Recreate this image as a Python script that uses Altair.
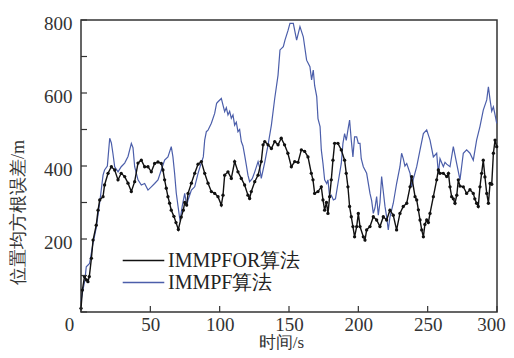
import altair as alt
import pandas as pd

# ---------------- data ----------------
series_names = ["IMMPFOR算法", "IMMPF算法"]
series_colors = ["#111111", "#4b5eaa"]

x_ticks = [0, 50, 100, 150, 200, 250, 300]
y_ticks = [0, 100, 200, 300, 400, 500, 600, 700, 800]
y_labels = [200, 400, 600, 800]

immpfor_t = [0, 1, 2.5, 4, 5, 6, 7.5, 8.7, 11, 12.3,
             13.5, 15.9, 17, 19.5, 21.9, 24.3, 26.7, 29, 31.5, 33.9,
             36.3, 38.7, 41.1, 43.5, 45.9, 48.3, 50.7, 53.1, 55.5, 57.9,
             59.1, 60.3, 61.5, 62.7, 63.9, 65.1, 67, 68.5, 70.2, 72.3,
             73.8, 74.8, 76.2, 77.2, 79.6, 82, 84.4, 86.8, 89.2, 91.6,
             94, 96.4, 98.8, 101.2, 102.4, 103.6, 106, 108.4, 110.8, 113.2,
             115.6, 118, 120.4, 121.6, 122.8, 125.3, 127.7, 130, 131.3, 132.5,
             134.9, 137.3, 139.7, 142.1, 144.4, 146.8, 149.2, 151.7, 154.1, 156.5,
             158.9, 161.3, 163.7, 166.1, 167.3, 168.5, 170.9, 173.3, 174.5, 175.7,
             177, 178.1, 179.3, 180.5, 181.7, 182.9, 185.3, 187.7, 190.1, 191.3,
             192.5, 193.7, 194.9, 196.1, 197.3, 198.8, 200, 201.2, 203.6, 204.8,
             206, 208.4, 210.8, 213.2, 215.6, 218, 220.4, 222.8, 225.2, 227.6,
             230, 232.4, 234.9, 237.3, 238.5, 240.9, 242.1, 243.3, 244.5, 245.7,
             246.9, 248, 249.3, 250.5, 251.7, 254.1, 256.5, 257.7, 258.9, 261.3,
             263.7, 265, 266.1, 267.3, 268.5, 269.7, 271, 272.1, 273.3, 275.7,
             278.1, 280.5, 282.9, 284, 285.3, 286.5, 287.7, 288.9, 290.1, 291.3,
             292.6, 293.8, 295, 296.2, 297.4, 298.6, 299.8]
immpfor_v = [10, 60, 97, 88, 83, 97, 147, 197, 238, 279,
             307, 316, 348, 380, 398, 389, 362, 380, 371, 353,
             330, 357, 408, 416, 398, 398, 384, 407, 411, 407,
             389, 362, 339, 316, 298, 279, 262, 245, 226, 260,
             279, 300, 293, 325, 353, 380, 405, 412, 380, 353,
             330, 325, 316, 293, 320, 375, 384, 366, 412, 384,
             366, 348, 320, 311, 330, 357, 375, 412, 458, 467,
             458, 448, 467, 458, 476, 458, 435, 398, 412, 410,
             444, 440, 425, 380, 362, 325, 330, 343, 307, 279,
             300, 270, 316, 362, 416, 462, 462, 444, 416, 380,
             343, 289, 261, 234, 206, 234, 270, 234, 206, 197,
             225, 234, 261, 252, 234, 261, 252, 279, 265, 225,
             270, 289, 298, 343, 371, 316, 307, 280, 252, 225,
             206, 240, 252, 245, 270, 316, 362, 389, 380, 380,
             371, 380, 343, 316, 310, 298, 320, 362, 345, 343,
             325, 335, 325, 310, 298, 289, 343, 380, 416, 370,
             325, 298, 352, 350, 435, 471, 453]

immpf_t = [0, 1, 2.8, 3.8, 6.2, 8.7, 11, 13.5, 15.9, 17,
           19, 20.7, 21.9, 23, 24.3, 26.7, 29, 31.5, 33.9, 36.3,
           37.5, 38.7, 41.1, 43.5, 45.9, 48.3, 50.7, 53.1, 55.5, 57.9,
           60.3, 62.7, 65.1, 66.3, 67.5, 68.7, 70, 71.4, 73, 74.8,
           76.2, 77.2, 79.6, 82, 84.4, 86, 88.2, 89.2, 90.4, 91.6,
           94, 96.4, 97.8, 98.8, 101.2, 102.4, 103.6, 104.8, 106, 107.2,
           108.4, 109.6, 110.8, 112, 113.2, 114.4, 115.6, 116.8, 118, 119.2,
           120.4, 121.6, 123.5, 125.3, 127.7, 128.9, 130, 132.5, 134.9, 137.3,
           139.7, 142.1, 143.5, 145.9, 147.1, 149.2, 150.7, 153.1, 155.5, 157.9,
           160.3, 162.7, 165.1, 166.3, 167.5, 168.5, 170, 170.9, 172.4, 173.3,
           174.5, 175.7, 177.2, 178.1, 179.3, 180.5, 182, 183.5, 185.3, 187.7,
           188.9, 190.1, 191.3, 192.5, 193.7, 194.9, 196.1, 197.3, 198.8, 200,
           201.2, 202.1, 203.6, 206, 208.4, 209.6, 210.8, 212, 213.2, 214.4,
           215.6, 216.8, 218, 219.2, 220.4, 221.6, 222.8, 225.2, 227.6, 230,
           231.2, 232.4, 233.6, 234.9, 237.3, 238.5, 239.7, 242.1, 244.5, 246.9,
           249.3, 251.7, 254.1, 256.5, 257.7, 258.9, 261.3, 262.5, 263.7, 266.1,
           268.5, 270.9, 273.3, 275.7, 278.1, 280.5, 282.9, 285.3, 287.7, 290.1,
           292.6, 293.8, 295, 296.2, 297.4, 298.6, 299.8]
immpf_v = [30, 52, 88, 124, 133, 189, 231, 300, 375, 389,
           400, 476, 463, 435, 398, 384, 398, 408, 426, 462,
           450, 398, 362, 348, 352, 334, 343, 352, 362, 389,
           416, 425, 453, 425, 380, 326, 289, 250, 290, 325,
           290, 307, 334, 343, 380, 400, 425, 471, 494, 498,
           517, 544, 572, 576, 585, 567, 549, 560, 540, 550,
           531, 540, 512, 520, 494, 500, 467, 455, 430, 403,
           375, 357, 365, 384, 412, 395, 366, 410, 458, 512,
           585, 649, 718, 727, 745, 770, 791, 791, 745, 782,
           754, 690, 672, 636, 663, 620, 590, 530, 508, 444,
           407, 362, 352, 362, 316, 320, 307, 310, 352, 407,
           462, 489, 470, 499, 526, 471, 425, 480, 480, 462,
           462, 420, 398, 380, 325, 305, 270, 285, 316, 265,
           300, 371, 330, 290, 261, 225, 260, 298, 352, 398,
           435, 420, 400, 407, 380, 343, 365, 398, 444, 489,
           499, 471, 425, 435, 380, 420, 398, 410, 405, 398,
           453, 407, 362, 435, 444, 435, 416, 471, 508, 553,
           581, 617, 581, 550, 562, 540, 517]

df_for = pd.DataFrame({"t": immpfor_t, "v": immpfor_v, "series": series_names[0]})
df_pf = pd.DataFrame({"t": immpf_t, "v": immpf_v, "series": series_names[1]})

SERIF = "serif"
AXC = "#333333"

x_enc = alt.X(
    "t:Q",
    scale=alt.Scale(domain=[0, 300], nice=False, zero=False),
    axis=alt.Axis(
        values=x_ticks, title="时间/s", format="d",
        labelPadding=3, labelFontSize=19, labelFlush=False,
        labelOffset={"condition": [
            {"test": "datum.value === 0", "value": -12},
            {"test": "datum.value === 300", "value": -6},
        ], "value": 0},
        titleX=200, titleY=22, titleBaseline="top", titleFontSize=17,
    ),
)
y_enc = alt.Y(
    "v:Q",
    scale=alt.Scale(domain=[0, 800], nice=False),
    axis=alt.Axis(
        values=y_labels, title="位置均方根误差/m", format="d",
        labelPadding=9, labelFontSize=19, labelOffset=3, labelFlush=False,
        titleX=-54, titleY=192, titleAngle=270, titleBaseline="bottom",
        titleFontSize=18,
    ),
)
color_enc = alt.Color(
    "series:N",
    scale=alt.Scale(domain=series_names, range=series_colors),
    legend=alt.Legend(
        orient="none", legendX=51, legendY=229, title=None,
        symbolType="M-2,0L2,0", symbolSize=432, symbolStrokeWidth=1.5,
        labelFont=SERIF, labelFontSize=20, labelColor="#222222",
        labelOffset=13, rowPadding=0, padding=0, labelLimit=400,
    ),
)

blue_line = alt.Chart(df_pf).mark_line(strokeWidth=1.2).encode(
    x=x_enc, y=y_enc, color=color_enc, order="t:Q"
)
black_line = alt.Chart(df_for).mark_line(strokeWidth=1.4).encode(
    x=x_enc, y=y_enc, color=color_enc, order="t:Q"
)
black_pts = alt.Chart(df_for).mark_point(filled=True, size=11, opacity=1).encode(
    x=x_enc, y=y_enc, color=alt.value(series_colors[0])
)

xtick_df = pd.DataFrame({"t": x_ticks})
ytick_df = pd.DataFrame({"v": y_ticks})
x_inticks = alt.Chart(xtick_df).mark_rule(color=AXC, strokeWidth=1.2).encode(
    x=x_enc, y=alt.value(292), y2=alt.value(286)
)
y_inticks = alt.Chart(ytick_df).mark_rule(color=AXC, strokeWidth=1.2).encode(
    y=y_enc, x=alt.value(0), x2=alt.value(6)
)

chart = alt.layer(blue_line, black_line, black_pts, x_inticks, y_inticks).properties(
    width=416, height=292,
    autosize=alt.AutoSizeParams(type="none"),
    padding={"left": 73, "top": 12, "right": 9, "bottom": 38},
    background="#ffffff",
).configure_view(
    stroke=AXC, strokeWidth=1.5
).configure_axis(
    domain=False, ticks=False, grid=False,
    labelFont=SERIF, labelColor=AXC,
    titleFont=SERIF, titleColor=AXC, titleFontWeight="normal",
)

chart.save("out.html", embed_options={"renderer": "svg", "actions": False})
